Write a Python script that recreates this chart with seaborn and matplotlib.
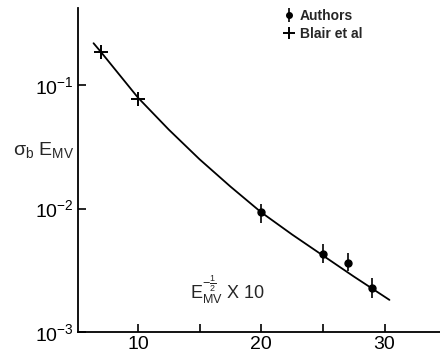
import numpy as np
import pandas as pd
import matplotlib
matplotlib.use("Agg")
import matplotlib.pyplot as plt
import seaborn as sns
from matplotlib.lines import Line2D

# --- Daten ---
# Kurve
curve_x = [6.4, 7, 8, 10, 12.5, 15, 17.5, 20, 22.5, 25, 27.5, 30.4]
curve_y = [0.219, 0.186, 0.140, 0.0794, 0.0437, 0.0251, 0.0151,
           0.00933, 0.00617, 0.00417, 0.00282, 0.00182]

# Authors (mit Fehlerbalken)
authors_x = [20, 25, 27, 29]
authors_y = [0.0093, 0.0043, 0.00364, 0.00228]
authors_lo = [0.0077, 0.00364, 0.00313, 0.00189]
authors_hi = [0.0110, 0.00519, 0.00438, 0.00275]

# Blair et al
blair_x = [7, 10]
blair_y = [0.185, 0.078]

x_ticks = [10, 15, 20, 25, 30]
x_ticklabels = ["10", "", "20", "", "30"]
y_ticks = [1e-1, 1e-2, 1e-3]
y_ticklabels = [r"$10^{-1}$", r"$10^{-2}$", r"$10^{-3}$"]

# --- Stil ---
sns.set_style("ticks")
font = ["Liberation Sans", "DejaVu Sans"]
plt.rcParams["font.family"] = font
plt.rcParams["mathtext.fontset"] = "custom"
plt.rcParams["mathtext.rm"] = "Liberation Sans"
plt.rcParams["mathtext.it"] = "Liberation Sans"
plt.rcParams["mathtext.sf"] = "Liberation Sans"
plt.rcParams["mathtext.default"] = "rm"

fig = plt.figure(figsize=(4.4, 3.53), dpi=100)
ax = fig.add_axes([0.177, 0.0595, 0.823, 0.918])

df_curve = pd.DataFrame({"x": curve_x, "y": curve_y})
sns.lineplot(data=df_curve, x="x", y="y", color="black", lw=1.3, ax=ax)

yerr = [np.array(authors_y) - np.array(authors_lo),
        np.array(authors_hi) - np.array(authors_y)]
ax.errorbar(authors_x, authors_y, yerr=yerr, fmt="o", color="black",
            ms=5, elinewidth=1.2, capsize=0)

df_blair = pd.DataFrame({"x": blair_x, "y": blair_y})
sns.scatterplot(data=df_blair, x="x", y="y", marker="+", s=110,
                color="black", linewidth=1.4, ax=ax)

ax.set_yscale("log")
ax.set_xlim(5.13, 34.5)
ax.set_ylim(1e-3, 0.423)
ax.set_xticks(x_ticks)
ax.set_xticklabels(x_ticklabels)
ax.set_yticks(y_ticks)
ax.set_yticklabels(y_ticklabels)
ax.minorticks_off()
ax.tick_params(direction="in", length=6, width=1.2, labelsize=14, pad=3,
               colors="black")
for s in ["top", "right"]:
    ax.spines[s].set_visible(False)
for s in ["left", "bottom"]:
    ax.spines[s].set_linewidth(1.3)
    ax.spines[s].set_color("black")
ax.set_xlabel("")
ax.set_ylabel("")

# Achsenbeschriftungen
fig.text(0.03, 0.575, r"$\sigma_{b}\ E_{MV}$", fontsize=14, va="center")
ax.text(14.2, 0.00186, r"$E_{MV}^{-\frac{1}{2}}\ X\ 10$", fontsize=13)

# Legende
h_auth = ax.errorbar([], [], yerr=[], fmt="o", color="black", ms=4,
                     elinewidth=1.2)
h_blair = Line2D([0], [0], marker="+", ms=9, mew=1.4, color="black", lw=0)
leg = fig.legend([h_auth, h_blair], ["Authors", "Blair et al"],
                 loc="upper left", bbox_to_anchor=(0.615, 1.01),
                 frameon=False, fontsize=10, handlelength=0.8,
                 handletextpad=0.4, labelspacing=0.3)
for t in leg.get_texts():
    t.set_fontweight("bold")

fig.savefig("out.png", dpi=100)
